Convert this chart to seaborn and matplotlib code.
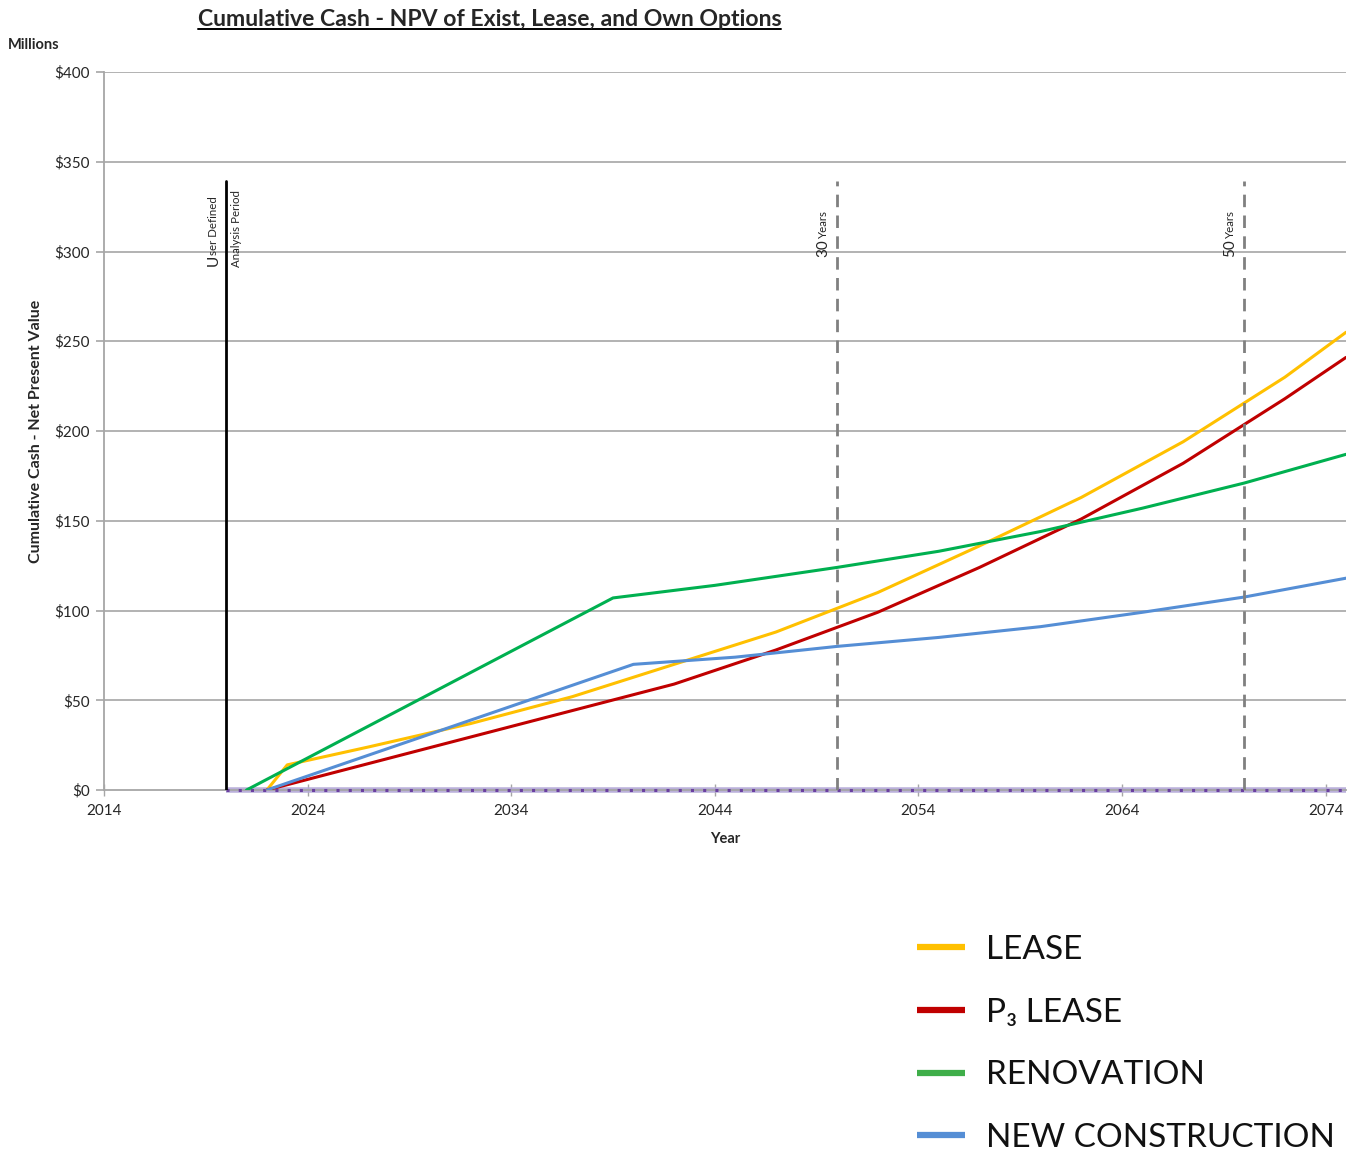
import matplotlib
matplotlib.use("Agg")
import matplotlib.pyplot as plt
from matplotlib.lines import Line2D
import seaborn as sns
import pandas as pd

# ---- data (values in $ millions) ----
lease_years = [2022, 2023, 2027, 2032, 2037, 2042, 2047, 2052, 2057, 2062, 2067, 2072, 2075]
lease_vals = [0, 14, 24, 37, 52, 70, 88, 110, 136, 163, 194, 230, 255]

p3_years = [2022, 2042, 2047, 2052, 2057, 2062, 2067, 2072, 2075]
p3_vals = [0, 59, 78, 99, 124, 151, 182, 218, 241]

reno_years = [2021, 2039, 2044, 2050, 2055, 2060, 2065, 2070, 2075]
reno_vals = [0, 107, 114, 124, 133, 144, 157, 171, 187]

newc_years = [2022, 2040, 2045, 2050, 2055, 2060, 2065, 2070, 2075]
newc_vals = [0, 70, 74, 80, 85, 91, 99, 107.5, 118]

exist_years = [2020, 2075]
exist_vals = [0, 0]

series_names = ["LEASE", "P3 LEASE", "RENOVATION", "NEW CONSTRUCTION"]
legend_labels = ["LEASE", "P\u2083 LEASE", "RENOVATION", "NEW CONSTRUCTION"]
series_colors = ["#FFC000", "#C00000", "#00B050", "#558ED5"]
legend_colors = ["#FFC000", "#C00000", "#3FAE49", "#558ED5"]

marker_years = [2020, 2050, 2070]

y_ticks = [0, 50, 100, 150, 200, 250, 300, 350, 400]
x_ticks = [2014, 2024, 2034, 2044, 2054, 2064, 2074]

frames = []
for name, yrs, vals in [("LEASE", lease_years, lease_vals),
                        ("P3 LEASE", p3_years, p3_vals),
                        ("RENOVATION", reno_years, reno_vals),
                        ("NEW CONSTRUCTION", newc_years, newc_vals)]:
    frames.append(pd.DataFrame({"Year": yrs, "Value": vals, "Option": name}))
df = pd.concat(frames, ignore_index=True)

sns.set_theme(style="white")
plt.rcParams["font.family"] = ["Lato", "DejaVu Sans"]

W, H = 1357, 1151
fig = plt.figure(figsize=(W / 100, H / 100), dpi=100)
ax = fig.add_axes([104 / W, 1 - 790 / H, (1346 - 104) / W, (790 - 72) / H])

# horizontal gridlines
for yt in y_ticks[1:]:
    ax.axhline(yt, color="#A6A6A6", lw=1.2, zorder=0)

# existing facility baseline (zero cost)
ax.plot(exist_years, exist_vals, color="#B3A8D6", lw=4, alpha=0.9, zorder=2,
        solid_capstyle="butt", clip_on=False)
ax.plot(exist_years, exist_vals, color="#6A3FA0", lw=2.2, ls=(0, (1.0, 3.0)),
        zorder=3, clip_on=False)

# option lines
sns.lineplot(data=df, x="Year", y="Value", hue="Option", hue_order=series_names,
             palette=dict(zip(series_names, series_colors)), linewidth=2.2,
             ax=ax, legend=False, zorder=4, estimator=None, sort=False)

# analysis period markers
ax.plot([marker_years[0]] * 2, [0, 339], color="black", lw=2, zorder=5)
for yr in marker_years[1:]:
    ax.plot([yr] * 2, [0, 339], color="#808080", lw=2, ls=(0, (4.5, 3)), zorder=5)

ax.set_xlim(2014, 2075)
ax.set_ylim(0, 400)
ax.set_xticks(x_ticks)
ax.set_yticks(y_ticks)
ax.set_yticklabels([f"${v}" for v in y_ticks])
ax.tick_params(axis="y", direction="out", length=6, color="#A6A6A6", width=1.2,
               labelsize=11, pad=4, left=True)
ax.tick_params(axis="x", direction="inout", length=8, color="#A6A6A6", width=1,
               labelsize=11, pad=6, bottom=True)
for s in ["top", "right"]:
    ax.spines[s].set_visible(False)
for s in ["left", "bottom"]:
    ax.spines[s].set_color("#A6A6A6")
    ax.spines[s].set_linewidth(1.3)

ax.set_xlabel("Year", fontsize=10.5, fontweight="bold", labelpad=10)
ax.set_ylabel("Cumulative Cash - Net Present Value", fontsize=11.5, fontweight="bold",
              labelpad=8)

# rotated marker captions (large leading character)
def caption(x, y, big, rest, dx, gap):
    ax.annotate(big, xy=(x, y), xytext=(dx, 0), textcoords="offset points",
                rotation=90, ha="center", va="bottom", fontsize=11)
    ax.annotate(rest, xy=(x, y), xytext=(dx, gap),
                textcoords="offset points", rotation=90, ha="center", va="bottom",
                fontsize=8.3)

caption(2020, 292, "U", "ser Defined", -9, 8)
ax.text(2020.25, 334, "Analysis Period", rotation=90, ha="left", va="top", fontsize=8.3)
caption(2050, 297, "30", "Years", -10, 13)
caption(2070, 297, "50", "Years", -10, 13)

# title and headings
title = fig.text(489.5 / W, 1 - 19 / H, "Cumulative Cash - NPV of Exist, Lease, and Own Options",
                 ha="center", va="center", fontsize=16.6, fontweight="bold")
fig.text(8 / W, 1 - 45 / H, "Millions", ha="left", va="center", fontsize=10.5,
         fontweight="bold")

fig.canvas.draw()
bb = title.get_window_extent()
uy = (bb.y0 + 1) / H
fig.add_artist(Line2D([bb.x0 / W, bb.x1 / W], [uy, uy], color="black", lw=1.4,
                      transform=fig.transFigure))

# legend
handles = [Line2D([0], [0], color=c, lw=4.5, solid_capstyle="butt") for c in legend_colors]
leg = fig.legend(handles, legend_labels, loc="upper left",
                 bbox_to_anchor=(887 / W, 1 - 905 / H), frameon=False,
                 handlelength=1.44, handletextpad=0.63, labelspacing=0.98,
                 prop={"family": ["Lato", "DejaVu Sans"], "weight": "normal", "size": 24})
for t in leg.get_texts():
    t.set_color("#111111")

fig.savefig("out.png", dpi=100)
